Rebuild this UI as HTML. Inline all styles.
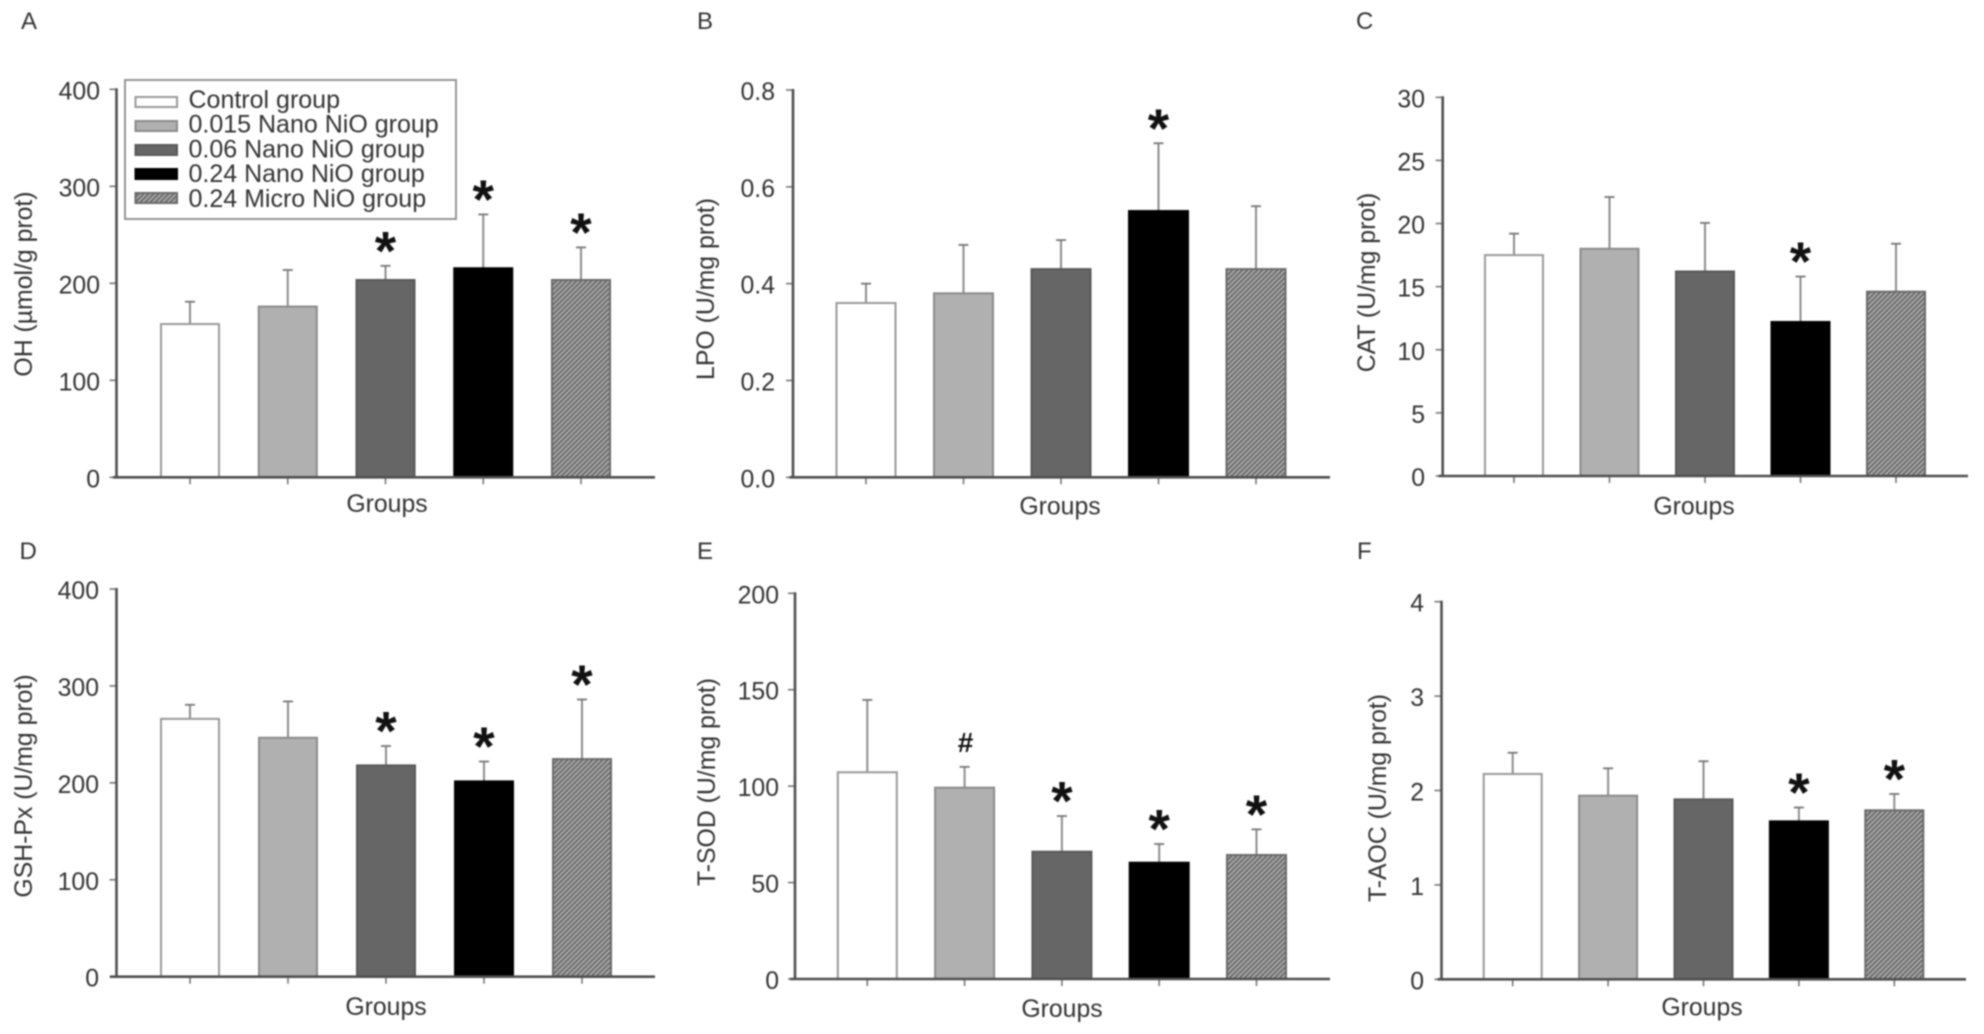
<!DOCTYPE html>
<html lang="en">
<head>
<meta charset="utf-8">
<title>Oxidative stress markers by NiO group</title>
<style>
html,body{margin:0;padding:0;background:#fff;width:1984px;height:1034px;overflow:hidden}
svg{display:block;filter:blur(0.7px)}
text{font-family:"Liberation Sans",Arial,sans-serif;fill:#333}
</style>
</head>
<body>
<svg id="figure" xmlns="http://www.w3.org/2000/svg" width="1984" height="1034" viewBox="0 0 1984 1034">
<defs>
<pattern id="hatch" patternUnits="userSpaceOnUse" width="5" height="5">
<rect width="5" height="5" fill="#6c6c6c"/>
<path d="M-1 1 L1 -1 M0 5 L5 0 M4 6 L6 4" stroke="#b4b4b4" stroke-width="1.5"/>
</pattern>
</defs>
<rect width="1984" height="1034" fill="#fff"/>
</svg>
<script>
// Shared categories
const groupNames = ['Control group', '0.015 Nano NiO group', '0.06 Nano NiO group', '0.24 Nano NiO group', '0.24 Micro NiO group'];

// Panel A: OH
const ohTicks = ['0', '100', '200', '300', '400'];
const ohMeans = [158, 176, 203.4, 215.5, 203.4];
const ohUpper = [181, 213.7, 218, 271, 237];
const ohMarks = ['', '', '*', '*', '*'];

// Panel B: LPO
const lpoTicks = ['0.0', '0.2', '0.4', '0.6', '0.8'];
const lpoMeans = [0.36, 0.38, 0.43, 0.55, 0.43];
const lpoUpper = [0.40, 0.48, 0.49, 0.69, 0.56];
const lpoMarks = ['', '', '', '*', ''];

// Panel C: CAT
const catTicks = ['0', '5', '10', '15', '20', '25', '30'];
const catMeans = [17.5, 18.0, 16.2, 12.2, 14.6];
const catUpper = [19.2, 22.1, 20.05, 15.8, 18.4];
const catMarks = ['', '', '', '*', ''];

// Panel D: GSH-Px
const gshTicks = ['0', '100', '200', '300', '400'];
const gshMeans = [266, 246.5, 218, 201.5, 224.5];
const gshUpper = [280.5, 284, 238, 222, 286];
const gshMarks = ['', '', '*', '*', '*'];

// Panel E: T-SOD
const sodTicks = ['0', '50', '100', '150', '200'];
const sodMeans = [107.2, 99.2, 66, 60.3, 64.3];
const sodUpper = [144.7, 110, 84.5, 70, 77.6];
const sodMarks = ['', '#', '*', '*', '*'];

// Panel F: T-AOC
const aocTicks = ['0', '1', '2', '3', '4'];
const aocMeans = [2.175, 1.945, 1.906, 1.673, 1.79];
const aocUpper = [2.40, 2.235, 2.31, 1.82, 1.963];
const aocMarks = ['', '', '', '*', '*'];

const svg = document.getElementById('figure');
const NS = 'http://www.w3.org/2000/svg';
const FONT = 25;
const barFills = ['#ffffff', '#b0b0b0', '#666666', '#000000', 'url(#hatch)'];
const barStrokes = ['#999999', '#8a8a8a', '#585858', '#000000', '#6a6a6a'];

function make(parent, tag, attrs, content) {
  const el = document.createElementNS(NS, tag);
  for (const k in attrs) el.setAttribute(k, attrs[k]);
  if (content !== undefined) el.textContent = content;
  parent.appendChild(el);
  return el;
}

function drawPanel(cfg, ticks, means, upper, marks) {
  const g = make(svg, 'g', {});
  
  

  const maxVal = parseFloat(ticks[ticks.length - 1]);
  const yScale = function (v) { return cfg.y0 - (v / maxVal) * (cfg.y0 - cfg.yTop); };
  const xScale = function (i) { return cfg.first + i * cfg.step; };

  const letter = make(g, 'text', { x: cfg.letterX, y: cfg.letterY, 'font-size': 24 }, cfg.letter);
  
  

  const title = make(g, 'text', {
    x: 0, y: 0, 'font-size': 24.8, 'text-anchor': 'middle',
    transform: 'translate(' + cfg.titleX + ' ' + cfg.titleY + ') rotate(-90)'
  }, cfg.title);
  
  

  const xTitle = make(g, 'text', { x: cfg.groupsX, y: cfg.groupsY, 'font-size': 24.8, 'text-anchor': 'middle' }, 'Groups');
  
  

  ticks.forEach(function (label) {
    const y = yScale(parseFloat(label));
    const tick = make(g, 'line', { x1: cfg.axisX - 7, x2: cfg.axisX, y1: y, y2: y, stroke: '#777', 'stroke-width': 1.6 });
    
    
    const txt = make(g, 'text', { x: cfg.labelRight, y: y + 10, 'font-size': 24.8, 'text-anchor': 'end' }, label);
    
    
  });

  means.forEach(function (value, i) {
    const cx = xScale(i);
    const top = yScale(value);
    const errTop = yScale(upper[i]);

    const stem = make(g, 'line', { x1: cx, x2: cx, y1: errTop, y2: top, stroke: '#8c8c8c', 'stroke-width': 2 });
    
    

    const cap = make(g, 'line', { x1: cx - 5, x2: cx + 5, y1: errTop, y2: errTop, stroke: '#777', 'stroke-width': 1.8 });
    
    

    const bar = make(g, 'rect', {
      x: cx - cfg.barW / 2, y: top, width: cfg.barW, height: cfg.y0 - top,
      fill: barFills[i], stroke: barStrokes[i], 'stroke-width': 2
    });
    
    

    const xTick = make(g, 'line', { x1: cx, x2: cx, y1: cfg.y0, y2: cfg.y0 + 7, stroke: '#777', 'stroke-width': 1.6 });
    
    

    if (marks[i] === '*') {
      const star = make(g, 'text', {
        x: cx, y: errTop + 3.5, 'font-size': 55, 'font-weight': 'bold', 'text-anchor': 'middle'
      }, '*');
      star.setAttribute('style', 'fill:#111');
      
      
    } else if (marks[i] === '#') {
      const hash = make(g, 'text', {
        x: cx + 1, y: errTop - 15, 'font-size': 28, 'font-weight': 'bold', 'text-anchor': 'middle'
      }, '#');
      hash.setAttribute('style', 'fill:#111');
      
      
    }
  });

  const yAxis = make(g, 'line', { x1: cfg.axisX, x2: cfg.axisX, y1: cfg.yTop - 1, y2: cfg.y0 + 1, stroke: '#4f4f4f', 'stroke-width': 2.6 });
  
  

  const xAxis = make(g, 'line', { x1: cfg.xStart, x2: cfg.xEnd, y1: cfg.y0, y2: cfg.y0, stroke: '#4f4f4f', 'stroke-width': 2.6 });
  
  
}

drawPanel({ key: 'oh', letter: 'A', letterX: 21, letterY: 29, title: 'OH (\u00b5mol/g prot)', titleX: 32, titleY: 284,
  axisX: 116.5, xStart: 113, xEnd: 655, y0: 477.3, yTop: 89.3, first: 190, step: 97.75, barW: 58,
  labelRight: 100, groupsX: 387, groupsY: 512 }, ohTicks, ohMeans, ohUpper, ohMarks);

drawPanel({ key: 'lpo', letter: 'B', letterX: 697, letterY: 29, title: 'LPO (U/mg prot)', titleX: 714, titleY: 289,
  axisX: 793, xStart: 789.5, xEnd: 1330, y0: 477.3, yTop: 90, first: 866, step: 97.5, barW: 59,
  labelRight: 775, groupsX: 1060, groupsY: 514.5 }, lpoTicks, lpoMeans, lpoUpper, lpoMarks);

drawPanel({ key: 'cat', letter: 'C', letterX: 1356, letterY: 29, title: 'CAT (U/mg prot)', titleX: 1375, titleY: 282.5,
  axisX: 1442.7, xStart: 1438.5, xEnd: 1968, y0: 476, yTop: 97.3, first: 1514, step: 95.5, barW: 58,
  labelRight: 1425, groupsX: 1694, groupsY: 514.5 }, catTicks, catMeans, catUpper, catMarks);

drawPanel({ key: 'gsh', letter: 'D', letterX: 19.5, letterY: 559, title: 'GSH-Px (U/mg prot)', titleX: 32, titleY: 786,
  axisX: 116.5, xStart: 110, xEnd: 655, y0: 976.7, yTop: 589, first: 190, step: 98, barW: 58,
  labelRight: 99, groupsX: 386, groupsY: 1015 }, gshTicks, gshMeans, gshUpper, gshMarks);

drawPanel({ key: 'sod', letter: 'E', letterX: 697, letterY: 559, title: 'T-SOD (U/mg prot)', titleX: 715, titleY: 782,
  axisX: 795, xStart: 790, xEnd: 1330, y0: 979, yTop: 593.3, first: 867.3, step: 97.3, barW: 59,
  labelRight: 779, groupsX: 1062, groupsY: 1017 }, sodTicks, sodMeans, sodUpper, sodMarks);

drawPanel({ key: 'aoc', letter: 'F', letterX: 1357, letterY: 559, title: 'T-AOC (U/mg prot)', titleX: 1386, titleY: 798,
  axisX: 1441.5, xStart: 1437.5, xEnd: 1966, y0: 979.3, yTop: 601.7, first: 1512.7, step: 95.4, barW: 58,
  labelRight: 1424, groupsX: 1702, groupsY: 1015.5 }, aocTicks, aocMeans, aocUpper, aocMarks);

// Legend
const legend = make(svg, 'g', {});



const legendBox = make(legend, 'rect', { x: 125, y: 80, width: 331, height: 139, fill: '#fff', stroke: '#8a8a8a', 'stroke-width': 1.8 });



groupNames.forEach(function (name, i) {
  const cy = 102 + i * 24;
  const swatch = make(legend, 'rect', { x: 135.5, y: cy - 5, width: 41.5, height: 10, fill: barFills[i], stroke: barStrokes[i], 'stroke-width': 2 });
  
  
  const label = make(legend, 'text', { x: 188.5, y: 108 + i * 24.7, 'font-size': FONT }, name);
  
  
});
</script>
</body>
</html>
